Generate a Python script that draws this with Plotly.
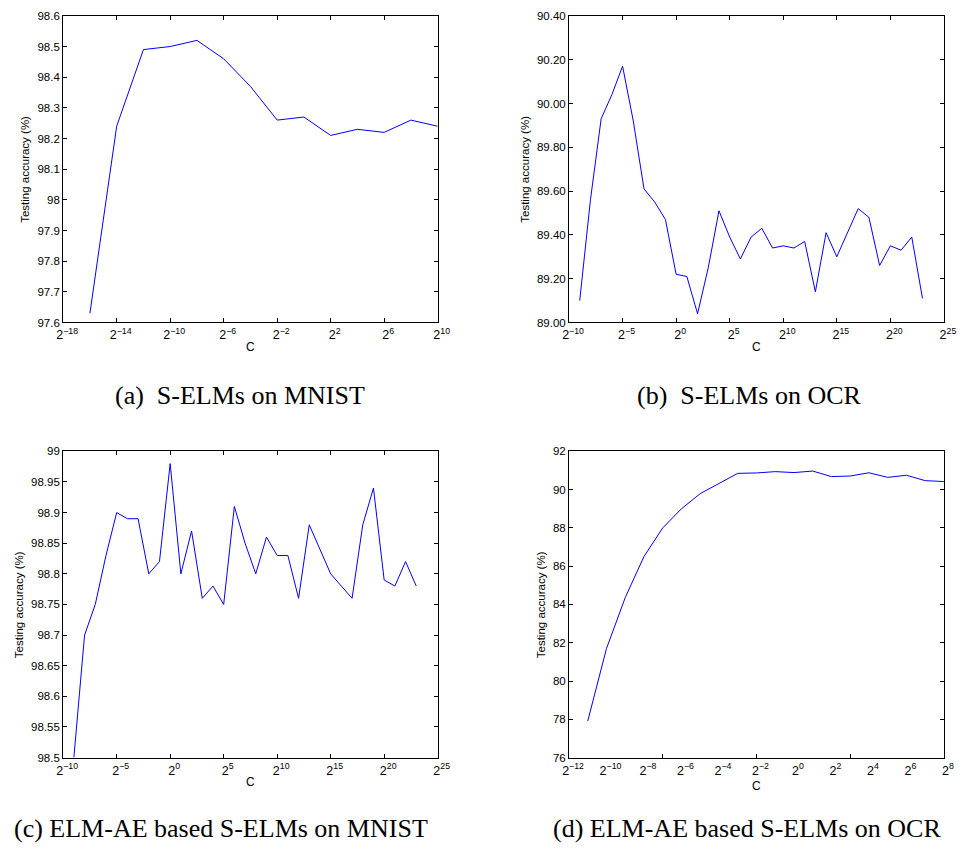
import plotly.graph_objects as go

# ---------------- data ----------------
# (a) S-ELMs on MNIST
a_exp = [-16, -14, -12, -10, -8, -6, -4, -2, 0, 2, 4, 6, 8, 10]
a_acc = [97.63, 98.24, 98.49, 98.50, 98.52, 98.46, 98.37, 98.26, 98.27, 98.21, 98.23, 98.22, 98.26, 98.24]

# (b) S-ELMs on OCR
b_exp = list(range(-9, 24))
b_acc = [89.10, 89.56, 89.93, 90.04, 90.17, 89.92, 89.61, 89.55, 89.47, 89.22, 89.21,
         89.04, 89.25, 89.51, 89.39, 89.29, 89.39, 89.43, 89.34, 89.35, 89.34, 89.37,
         89.14, 89.41, 89.30, 89.41, 89.52, 89.48, 89.26, 89.35, 89.33, 89.39, 89.11]

# (c) ELM-AE based S-ELMs on MNIST
c_exp = list(range(-9, 24))
c_acc = [98.50, 98.70, 98.75, 98.83, 98.90, 98.89, 98.89, 98.80, 98.82, 98.98, 98.80,
         98.87, 98.76, 98.78, 98.75, 98.91, 98.85, 98.80, 98.86, 98.83, 98.83, 98.76,
         98.88, 98.84, 98.80, 98.78, 98.76, 98.88, 98.94, 98.79, 98.78, 98.82, 98.78]

# (d) ELM-AE based S-ELMs on OCR
d_exp = list(range(-11, 9))
d_acc = [77.91, 81.70, 84.36, 86.51, 88.00, 89.00, 89.79, 90.33, 90.85, 90.87,
         90.94, 90.89, 90.97, 90.68, 90.71, 90.88, 90.64, 90.75, 90.47, 90.42]

# tick definitions
a_xticks = [-18, -14, -10, -6, -2, 2, 6, 10]
a_yticks = [97.6, 97.7, 97.8, 97.9, 98.0, 98.1, 98.2, 98.3, 98.4, 98.5, 98.6]
a_ylabels = ["97.6", "97.7", "97.8", "97.9", "98", "98.1", "98.2", "98.3", "98.4", "98.5", "98.6"]

b_xticks = [-10, -5, 0, 5, 10, 15, 20, 25]
b_yticks = [89.0, 89.2, 89.4, 89.6, 89.8, 90.0, 90.2, 90.4]
b_ylabels = ["89.00", "89.20", "89.40", "89.60", "89.80", "90.00", "90.20", "90.40"]

c_xticks = [-10, -5, 0, 5, 10, 15, 20, 25]
c_yticks = [98.5, 98.55, 98.6, 98.65, 98.7, 98.75, 98.8, 98.85, 98.9, 98.95, 99.0]
c_ylabels = ["98.5", "98.55", "98.6", "98.65", "98.7", "98.75", "98.8", "98.85", "98.9", "98.95", "99"]

d_xlabel_vals = [-12, -10, -8, -6, -4, -2, 0, 2, 4, 6, 8]
d_xtickmarks = [-7, -2, 3]
d_yticks = [76, 78, 80, 82, 84, 86, 88, 90, 92]
d_ylabels = ["76", "78", "80", "82", "84", "86", "88", "90", "92"]

captions = ["(a)  S-ELMs on MNIST", "(b)  S-ELMs on OCR",
            "(c) ELM-AE based S-ELMs on MNIST", "(d) ELM-AE based S-ELMs on OCR"]


def pow_labels(vals):
    return ["2<sup>%s</sup>" % (str(v).replace("-", "\u2212")) for v in vals]


W, H = 966, 852
SANS = "Liberation Sans, Arial, Helvetica, sans-serif"
SERIF = "Liberation Serif, Times New Roman, serif"
FS = 11.5
FSX = 12.5

# plot areas in pixels: (left, top, right, bottom)
boxes = [(57.3, 10, 439.3, 321), (573.3, 10, 955.7, 321),
         (57.3, 451.7, 439.3, 762.3), (573.3, 451.7, 955.7, 762.3)]


def xdom(b):
    return [b[0] / W, b[2] / W]


def ydom(b):
    return [1 - b[3] / H, 1 - b[1] / H]


fig = go.Figure()
series = [(a_exp, a_acc), (b_exp, b_acc), (c_exp, c_acc), (d_exp, d_acc)]
for i, (xs, ys) in enumerate(series):
    sfx = "" if i == 0 else str(i + 1)
    fig.add_trace(go.Scatter(x=xs, y=ys, mode="lines",
                             line=dict(color="#0000ff", width=1),
                             xaxis="x" + sfx, yaxis="y" + sfx, showlegend=False,
                             hoverinfo="skip"))

common_axis = dict(showline=True, linecolor="black", linewidth=1, mirror="ticks",
                   ticks="inside", ticklen=4, tickcolor="black", tickwidth=1,
                   showgrid=False, zeroline=False,
                   tickfont=dict(family=SANS, size=FS, color="black"))

xranges = [[-18, 10], [-10, 25], [-10, 25], [-12, 8]]
yranges = [[97.6, 98.6], [89.0, 90.4], [98.5, 99.0], [76, 92]]
xtick_sets = [a_xticks, b_xticks, c_xticks, None]
ytick_sets = [(a_yticks, a_ylabels), (b_yticks, b_ylabels), (c_yticks, c_ylabels), (d_yticks, d_ylabels)]

layout = dict(width=W, height=H, margin=dict(l=0, r=0, t=0, b=0),
              paper_bgcolor="white", plot_bgcolor="white")

for i in range(4):
    sfx = "" if i == 0 else str(i + 1)
    xa = dict(common_axis)
    xa.update(domain=xdom(boxes[i]), range=xranges[i], anchor="y" + sfx,
              ticklabelshift=4, ticklabelstandoff=1,
              tickfont=dict(family=SANS, size=FSX, color="black"))
    if xtick_sets[i] is not None:
        xa.update(tickmode="array", tickvals=xtick_sets[i], ticktext=pow_labels(xtick_sets[i]))
    else:
        xa.update(tickmode="array", tickvals=d_xlabel_vals, ticktext=pow_labels(d_xlabel_vals),
                  ticks="", mirror=True,
                  minor=dict(tickmode="array", tickvals=d_xtickmarks, ticks="inside",
                             ticklen=4, tickcolor="black", tickwidth=1, showgrid=False))
    ya = dict(common_axis)
    ya.update(domain=ydom(boxes[i]), range=yranges[i], anchor="x" + sfx,
              tickmode="array", tickvals=ytick_sets[i][0], ticktext=ytick_sets[i][1])
    layout["xaxis" + sfx] = xa
    layout["yaxis" + sfx] = ya

fig.update_layout(**layout)

# axis titles and captions
ytitle_x = [19, 529, 13, 545.5]
ctitle_off = [25, 25, 25, 29]
caption_pos = [(237.5, 395), (757, 395), (218, 834), (755, 834)]
for i, b in enumerate(boxes):
    cx = (b[0] + b[2]) / 2
    cy = (b[1] + b[3]) / 2
    fig.add_annotation(x=cx / W, y=1 - (b[3] + ctitle_off[i]) / H, xref="paper", yref="paper",
                       text="C", showarrow=False, xanchor="center", yanchor="middle",
                       font=dict(family=SANS, size=FS + 0.5, color="black"))
    fig.add_annotation(x=ytitle_x[i] / W, y=1 - cy / H, xref="paper", yref="paper",
                       text="Testing accuracy (%)", textangle=-90, showarrow=False,
                       xanchor="center", yanchor="middle",
                       font=dict(family=SANS, size=FS, color="black"))
    px, py = caption_pos[i]
    fig.add_annotation(x=px / W, y=1 - py / H, xref="paper", yref="paper",
                       text=captions[i], showarrow=False, xanchor="center", yanchor="middle",
                       font=dict(family=SERIF, size=26, color="black"))

fig.write_html("out.html")
